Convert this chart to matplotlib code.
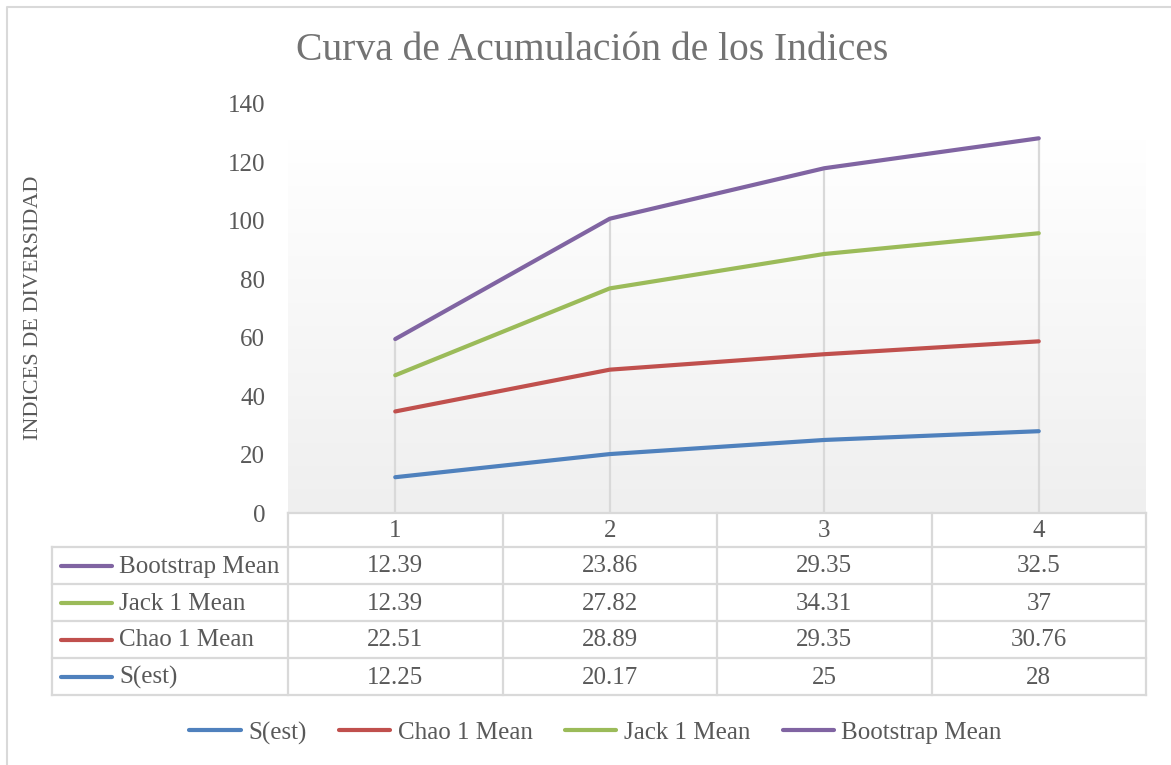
import numpy as np
import matplotlib
matplotlib.use("Agg")
import matplotlib.pyplot as plt
from matplotlib.lines import Line2D
from matplotlib.colors import LinearSegmentedColormap

plt.rcParams['font.family'] = ['Liberation Serif', 'DejaVu Serif']

# ---- data ----
categories = ["1", "2", "3", "4"]
series_names = ["S(est)", "Chao 1 Mean", "Jack 1 Mean", "Bootstrap Mean"]
s_est = [12.25, 20.17, 25, 28]
chao1 = [22.51, 28.89, 29.35, 30.76]
jack1 = [12.39, 27.82, 34.31, 37]
bootstrap = [12.39, 23.86, 29.35, 32.5]
table_labels = [["12.25", "20.17", "25", "28"],
                ["22.51", "28.89", "29.35", "30.76"],
                ["12.39", "27.82", "34.31", "37"],
                ["12.39", "23.86", "29.35", "32.5"]]
yticks = [0, 20, 40, 60, 80, 100, 120, 140]
title = "Curva de Acumulación de los Indices"
ylabel = "INDICES DE DIVERSIDAD"

colors = ["#4F81BD", "#C0504D", "#9BBB59", "#8064A2"]
txt = "#595959"
grid = "#d9d9d9"

W, H = 1171, 765
fig = plt.figure(figsize=(W / 100, H / 100), dpi=100)

# plot area in pixels
L, R, T, B = 288, 1146, 104, 513
ax = fig.add_axes([L / W, (H - B) / H, (R - L) / W, (B - T) / H])
x = np.arange(1, len(categories) + 1)
ax.set_xlim(0.5, len(categories) + 0.5)
ax.set_ylim(0, 140)

# gradient background (white at top -> light gray at bottom)
grad = np.linspace(1.0, 0.0, 256).reshape(-1, 1)
cmap = LinearSegmentedColormap.from_list("g", ["#efefef", "#ffffff"])
ax.imshow(grad, extent=[0.5, len(categories) + 0.5, 0, 128], aspect="auto",
          cmap=cmap, origin="upper", zorder=0, vmin=0, vmax=1)

stack = np.cumsum(np.array([s_est, chao1, jack1, bootstrap]), axis=0)

# drop lines
ax.vlines(x, 0, stack[-1], color=grid, lw=1.6, zorder=1)

for i, name in enumerate(series_names):
    ax.plot(x, stack[i], color=colors[i], lw=3.0, solid_capstyle="round",
            solid_joinstyle="round", zorder=3, label=name)

ax.set_yticks(yticks)
ax.set_yticklabels([str(v) for v in yticks], fontsize=18, color=txt)
ax.tick_params(axis="y", length=0, pad=16.5)
ax.set_xticks([])
for s in ax.spines.values():
    s.set_visible(False)

# overlay axes in pixel coordinates for the data table
ov = fig.add_axes([0, 0, 1, 1], zorder=5)
ov.set_xlim(0, W)
ov.set_ylim(H, 0)
ov.axis("off")
ov.patch.set_alpha(0)

# outer border
ov.plot([7, 7, 1175], [770, 7, 7], color=grid, lw=1.5)

col_edges = [L + (R - L) * k / len(categories) for k in range(len(categories) + 1)]
row_edges = [513, 547, 584, 621, 658, 695]
lab_left = 52
lw_t = 1.6
# horizontal lines
ov.plot([L, R], [row_edges[0], row_edges[0]], color=grid, lw=lw_t)
for yy in row_edges[1:]:
    ov.plot([lab_left, R], [yy, yy], color=grid, lw=lw_t)
# vertical lines
for xx in col_edges:
    ov.plot([xx, xx], [row_edges[0], row_edges[-1]], color=grid, lw=lw_t)
ov.plot([lab_left, lab_left], [row_edges[1], row_edges[-1]], color=grid, lw=lw_t)

# header
for j, c in enumerate(categories):
    ov.text((col_edges[j] + col_edges[j + 1]) / 2, (row_edges[0] + row_edges[1]) / 2 + 1,
            c, ha="center", va="center", fontsize=18, color=txt)

# rows (top: Bootstrap ... bottom: S(est))
order = [3, 2, 1, 0]
for r, si in enumerate(order):
    yc = (row_edges[r + 1] + row_edges[r + 2]) / 2
    ov.plot([61, 112], [yc, yc], color=colors[si], lw=3.0, solid_capstyle="round")
    ov.text(119, yc + 1, series_names[si], ha="left", va="center", fontsize=18, color=txt)
    for j in range(len(categories)):
        ov.text((col_edges[j] + col_edges[j + 1]) / 2, yc + 1, table_labels[si][j],
                ha="center", va="center", fontsize=18, color=txt)

# title and y label
fig.text(592 / W, 1 - 51 / H, title, ha="center", va="center", fontsize=28.5, color="#737373")
fig.text(34 / W, 1 - 308 / H, ylabel, ha="center", va="center", rotation=90,
         fontsize=16, color=txt)

# legend
handles = [Line2D([], [], color=colors[i], lw=3.0, solid_capstyle="round") for i in range(4)]
leg = fig.legend(handles, series_names, loc="center", bbox_to_anchor=(595.5 / W, 1 - 733 / H),
                 ncol=4, frameon=False, fontsize=18, handlelength=2.05, handletextpad=0.3,
                 columnspacing=1.3, labelcolor=txt)

fig.savefig("out.png", dpi=100)
